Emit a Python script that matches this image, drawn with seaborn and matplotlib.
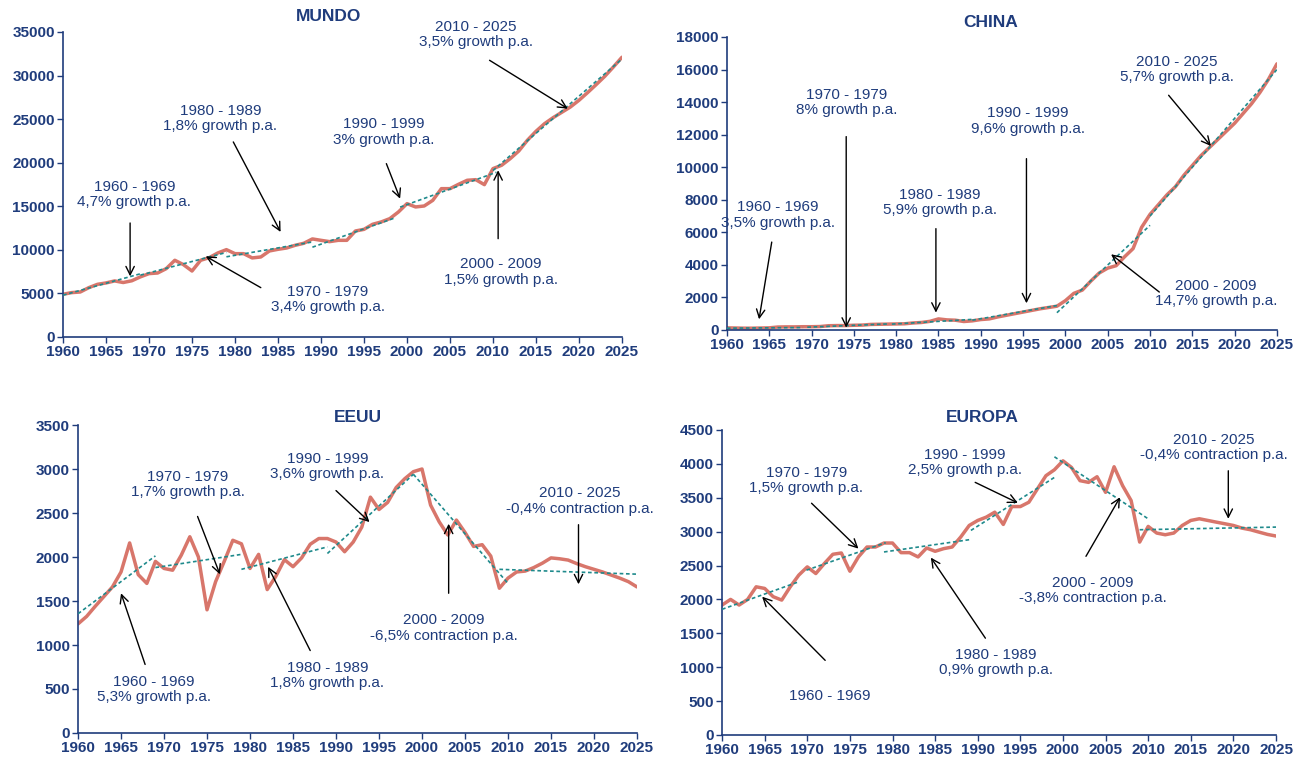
import matplotlib
matplotlib.use("Agg")
import matplotlib.pyplot as plt
import numpy as np
import pandas as pd
import seaborn as sns

years = list(range(1960, 2026))

mundo = [4900, 5090, 5160, 5660, 6040, 6200, 6430, 6250, 6450, 6900,
         7270, 7340, 7840, 8800, 8300, 7570, 8800, 9100, 9640, 10020,
         9560, 9560, 9070, 9180, 9870, 10060, 10210, 10520, 10750, 11250,
         11090, 10940, 11090, 11090, 12160, 12350, 12930, 13200, 13580, 14340,
         15300, 14920, 15030, 15680, 17020, 17020, 17520, 17980, 18050, 17480,
         19320, 19700, 20460, 21340, 22570, 23600, 24480, 25170, 25780, 26390,
         27160, 28040, 28960, 29910, 30980, 32100]

china = [130, 120, 110, 110, 120, 130, 180, 190, 190, 200,
         200, 210, 260, 270, 270, 290, 300, 340, 350, 360,
         370, 380, 430, 460, 530, 680, 620, 600, 520, 560,
         640, 680, 800, 900, 1000, 1100, 1200, 1300, 1380, 1460,
         1800, 2250, 2450, 3000, 3500, 3800, 3950, 4500, 5000, 6300,
         7100, 7700, 8300, 8800, 9500, 10100, 10700, 11200, 11700, 12200,
         12700, 13300, 13900, 14600, 15400, 16350]

eeuu = [1240, 1325, 1440, 1550, 1660, 1830, 2160, 1800, 1700, 1950,
        1870, 1850, 2020, 2230, 2000, 1400, 1720, 1950, 2190, 2150,
        1870, 2030, 1630, 1780, 1970, 1890, 1990, 2145, 2210, 2210,
        2170, 2060, 2170, 2340, 2680, 2540, 2620, 2790, 2890, 2970,
        3000, 2590, 2400, 2250, 2420, 2280, 2120, 2140, 2010, 1645,
        1760, 1830, 1840, 1880, 1930, 1990, 1980, 1965, 1925, 1890,
        1860, 1830, 1795, 1760, 1720, 1660]

europa = [1917, 2000, 1917, 2000, 2186, 2162, 2040, 1990, 2186, 2358,
          2480, 2382, 2529, 2666, 2685, 2416, 2627, 2773, 2773, 2832,
          2832, 2690, 2690, 2627, 2759, 2710, 2749, 2773, 2920, 3091,
          3165, 3214, 3287, 3106, 3370, 3370, 3434, 3630, 3825, 3913,
          4045, 3947, 3752, 3727, 3810, 3580, 3957, 3678, 3458, 2846,
          3077, 2979, 2954, 2979, 3091, 3165, 3190, 3165, 3140, 3116,
          3091, 3052, 3028, 2993, 2959, 2935]

# trend segments per decade: start year, end year, start value, end value
mundo_tx0 = [1960, 1969, 1979, 1989, 1999.2, 2010]
mundo_tx1 = [1969, 1979, 1989, 1998.7, 2010.4, 2025]
mundo_ty0 = [4800, 7100, 9200, 10300, 14900, 19100]
mundo_ty1 = [7250, 9700, 10900, 13700, 18900, 31900]

china_tx0 = [1960, 1969.5, 1979.5, 1989, 1999, 2010]
china_tx1 = [1969, 1979, 1989, 1999, 2010, 2025]
china_ty0 = [110, 170, 360, 600, 1060, 7000]
china_ty1 = [150, 370, 650, 1500, 6430, 16000]

eeuu_tx0 = [1960, 1969, 1979, 1989, 1999, 2009]
eeuu_tx1 = [1969, 1979, 1989, 1999, 2010, 2025]
eeuu_ty0 = [1355, 1880, 1860, 2040, 2940, 1860]
eeuu_ty1 = [2013, 2030, 2115, 2940, 1700, 1805]

europa_tx0 = [1960, 1969.9, 1979, 1989.2, 1999, 2009]
europa_tx1 = [1969, 1979.2, 1989, 1999, 2010, 2025]
europa_ty0 = [1854, 2431, 2700, 3018, 4104, 3028]
europa_ty1 = [2260, 2837, 2881, 3800, 3189, 3067]

mundo_notes = ["1960 - 1969\n4,7% growth p.a.", "1970 - 1979\n3,4% growth p.a.",
               "1980 - 1989\n1,8% growth p.a.", "1990 - 1999\n3% growth p.a.",
               "2000 - 2009\n1,5% growth p.a.", "2010 - 2025\n3,5% growth p.a."]
china_notes = ["1960 - 1969\n3,5% growth p.a.", "1970 - 1979\n8% growth p.a.",
               "1980 - 1989\n5,9% growth p.a.", "1990 - 1999\n9,6% growth p.a.",
               "2000 - 2009\n14,7% growth p.a.", "2010 - 2025\n5,7% growth p.a."]
eeuu_notes = ["1960 - 1969\n5,3% growth p.a.", "1970 - 1979\n1,7% growth p.a.",
              "1980 - 1989\n1,8% growth p.a.", "1990 - 1999\n3,6% growth p.a.",
              "2000 - 2009\n-6,5% contraction p.a.", "2010 - 2025\n-0,4% contraction p.a."]
europa_notes = ["1960 - 1969", "1970 - 1979\n1,5% growth p.a.",
                "1980 - 1989\n0,9% growth p.a.", "1990 - 1999\n2,5% growth p.a.",
                "2000 - 2009\n-3,8% contraction p.a.", "2010 - 2025\n-0,4% contraction p.a."]

sns.set_style("white")
plt.rcParams['font.family'] = ['Liberation Sans', 'DejaVu Sans']

navy = "#1F3C7C"
red = "#D8766B"
teal = "#1F8A8C"

# layout: text position, arrow tail, arrow head (data coords)
mundo_pos = [(1968.3, 16330, 1967.8, 13080, 1967.8, 6960),
             (1990.8, 4280, 1983.0, 5660, 1976.6, 9260),
             (1978.3, 25050, 1979.8, 22380, 1985.3, 12050),
             (1997.3, 23530, 1997.6, 19890, 1999.2, 15870),
             (2010.9, 7460, 2010.6, 11280, 2010.6, 19130),
             (2008.0, 34690, 2009.6, 31750, 2018.7, 26200)]
china_pos = [(1966.0, 7065, 1965.3, 5400, 1963.8, 655),
             (1974.1, 13970, 1974.1, 11880, 1974.1, 143),
             (1985.2, 7820, 1984.7, 6225, 1984.7, 1065),
             (1995.6, 12840, 1995.4, 10525, 1995.4, 1640),
             (2017.8, 2250, 2011.1, 2330, 2005.4, 4650),
             (2013.2, 16010, 2012.2, 14420, 2017.2, 11300)]
eeuu_pos = [(1968.8, 497, 1967.8, 779, 1965.0, 1588),
            (1972.8, 2823, 1973.9, 2461, 1976.5, 1803),
            (1989.0, 655, 1987.0, 937, 1982.1, 1889),
            (1989.0, 3026, 1990.0, 2755, 1993.9, 2397),
            (2002.5, 1193, 2003.1, 1588, 2003.1, 2378),
            (2018.4, 2638, 2018.2, 2367, 2018.2, 1690)]
europa_pos = [(1972.6, 582, 1972.1, 1101, 1964.7, 2040),
              (1969.9, 3752, 1970.5, 3419, 1976.0, 2749),
              (1992.1, 1071, 1990.9, 1428, 1984.5, 2617),
              (1988.5, 4021, 1989.7, 3727, 1994.7, 3424),
              (2003.5, 2128, 2002.7, 2636, 2006.7, 3507),
              (2017.7, 4241, 2019.4, 3898, 2019.4, 3189)]

panels = [
    ("MUNDO", mundo, mundo_tx0, mundo_tx1, mundo_ty0, mundo_ty1, 35000, 5000,
     mundo_notes, mundo_pos, [0.0483, 0.5572, 0.4283, 0.4008], (0.475, 1.05)),
    ("CHINA", china, china_tx0, china_tx1, china_ty0, china_ty1, 18000, 2000,
     china_notes, china_pos, [0.5570, 0.5664, 0.4215, 0.3850], (0.48, 1.05)),
    ("EEUU", eeuu, eeuu_tx0, eeuu_tx1, eeuu_ty0, eeuu_ty1, 3500, 500,
     eeuu_notes, eeuu_pos, [0.0598, 0.0368, 0.4283, 0.4047], (0.50, 1.025)),
    ("EUROPA", europa, europa_tx0, europa_tx1, europa_ty0, europa_ty1, 4500, 500,
     europa_notes, europa_pos, [0.5533, 0.0342, 0.4245, 0.4008], (0.47, 1.04)),
]

fig = plt.figure(figsize=(13.05, 7.61), dpi=100)

for title, vals, tx0, tx1, ty0, ty1, ymax, ystep, notes, pos, rect, tpos in panels:
    ax = fig.add_axes(rect)
    df = pd.DataFrame({"year": years, "value": vals})
    sns.lineplot(data=df, x="year", y="value", color=red, lw=2.5, ax=ax, zorder=2)
    for a, b, c, d in zip(tx0, tx1, ty0, ty1):
        seg = pd.DataFrame({"year": [a, b], "value": [c, d]})
        sns.lineplot(data=seg, x="year", y="value", color=teal, lw=1.2,
                     linestyle=(0, (2.2, 1.6)), ax=ax, zorder=3)
    for label, (tx, ty, x0, y0, x1, y1) in zip(notes, pos):
        ax.text(tx, ty, label, ha="center", va="center", color=navy,
                fontsize=11, linespacing=1.12, zorder=5)
        ax.annotate("", xy=(x1, y1), xytext=(x0, y0),
                    arrowprops=dict(arrowstyle="->", color="black", lw=1,
                                    mutation_scale=15, shrinkA=0, shrinkB=0),
                    annotation_clip=False, zorder=4)
    ax.set_xlim(1960, 2025)
    ax.set_ylim(0, ymax)
    ax.set_xticks(range(1960, 2026, 5))
    ax.set_yticks(range(0, ymax + 1, ystep))
    ax.set_xlabel("")
    ax.set_ylabel("")
    sns.despine(ax=ax)
    for s in ["left", "bottom"]:
        ax.spines[s].set_color(navy)
        ax.spines[s].set_linewidth(1.2)
    ax.tick_params(axis="both", colors=navy, labelsize=11, length=4, width=1,
                   direction="out", bottom=True, left=True, pad=2)
    for lab in ax.get_xticklabels() + ax.get_yticklabels():
        lab.set_fontweight("bold")
    ax.text(tpos[0], tpos[1], title, transform=ax.transAxes, ha="center",
            va="center", color=navy, fontsize=12.5, fontweight="bold")

fig.savefig("out.png", dpi=100)
